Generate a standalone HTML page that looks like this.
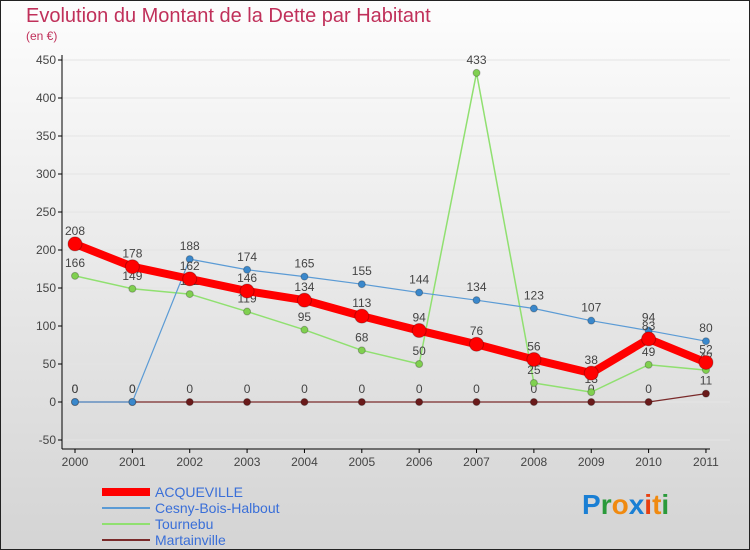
<!DOCTYPE html>
<html><head><meta charset="utf-8"><style>
body{margin:0;width:750px;height:550px;overflow:hidden;font-family:"Liberation Sans",sans-serif}
svg{display:block}
</style></head><body>
<svg id="c" width="750" height="550" xmlns="http://www.w3.org/2000/svg">
<defs><linearGradient id="bg" x1="0" y1="0" x2="0" y2="1"><stop offset="0" stop-color="#fdfdfd"/><stop offset="1" stop-color="#d4d4d4"/></linearGradient></defs>
<rect x="0.5" y="0.5" width="749" height="549" fill="url(#bg)" stroke="#222"/>
<text x="26" y="22" font-size="20" fill="#c0305a">Evolution du Montant de la Dette par Habitant</text>
<text x="26" y="40" font-size="12" fill="#c0305a">(en €)</text>
<g id="grid"></g><g id="axes"></g><g id="series"></g>
<g font-size="14">
<line x1="102" y1="492" x2="150" y2="492" stroke="#f00" stroke-width="8"/>
<text x="155" y="497" fill="#3a6fd8">ACQUEVILLE</text>
<line x1="102" y1="508" x2="150" y2="508" stroke="#5b9bd5" stroke-width="2"/>
<text x="155" y="513" fill="#3a6fd8">Cesny-Bois-Halbout</text>
<line x1="102" y1="524" x2="150" y2="524" stroke="#90e070" stroke-width="2"/>
<text x="155" y="529" fill="#3a6fd8">Tournebu</text>
<line x1="102" y1="540" x2="150" y2="540" stroke="#7a2a2a" stroke-width="2"/>
<text x="155" y="545" fill="#3a6fd8">Martainville</text>
</g>
<text x="582" y="514" font-size="28" font-weight="bold"><tspan fill="#1a7fd4">P</tspan><tspan fill="#2a9a3a">r</tspan><tspan fill="#f08a10">o</tspan><tspan fill="#1a7fd4">x</tspan><tspan fill="#e84010">i</tspan><tspan fill="#f08a10">t</tspan><tspan fill="#2a9a3a">i</tspan></text>
</svg>
<script>
const years=["2000","2001","2002","2003","2004","2005","2006","2007","2008","2009","2010","2011"];
const yTicks=[-50,0,50,100,150,200,250,300,350,400,450];
const acqueville=[208,178,162,146,134,113,94,76,56,38,83,52];
const cesny=[0,0,188,174,165,155,144,134,123,107,94,80];
const tournebu=[166,149,142,119,95,68,50,433,25,13,49,42];
const martainville=[0,0,0,0,0,0,0,0,0,0,0,11];
const NS="http://www.w3.org/2000/svg";
const xs=i=>75+i*57.36, ys=v=>402-v*0.76;
function mk(p,t,a){const e=document.createElementNS(NS,t);for(const k in a)e.setAttribute(k,a[k]);p.appendChild(e);return e;}
const grid=document.getElementById('grid'),axes=document.getElementById('axes'),ser=document.getElementById('series');
yTicks.forEach(v=>{
 const l=mk(grid,'line',{x1:62,x2:730,y1:ys(v),y2:ys(v),stroke:'#e4e4e4'});
 
 
 mk(axes,'line',{x1:58,x2:62,y1:ys(v),y2:ys(v),stroke:'#000'});
 const t=mk(axes,'text',{x:56,y:ys(v)+4,'text-anchor':'end','font-size':12,fill:'#444'});t.textContent=v;
 
 
});
mk(axes,'line',{x1:62,x2:62,y1:55,y2:449,stroke:'#000'});
mk(axes,'line',{x1:62,x2:710,y1:449,y2:449,stroke:'#000'});
years.forEach((y,i)=>{
 mk(axes,'line',{x1:xs(i),x2:xs(i),y1:449,y2:453,stroke:'#000'});
 const t=mk(axes,'text',{x:xs(i),y:466,'text-anchor':'middle','font-size':12,fill:'#444'});t.textContent=y;
 
 
});
function draw(d,name,color,w,r,dot){
 const g=mk(ser,'g',{});
 
 
 mk(g,'polyline',{points:d.map((v,i)=>xs(i)+','+ys(v)).join(' '),fill:'none',stroke:color,'stroke-width':w,'stroke-linejoin':'round'});
 d.forEach((v,i)=>{
  const c=mk(g,'circle',{cx:xs(i),cy:ys(v),r:r,fill:dot,stroke:'rgba(0,0,0,0.25)'});
  
  
  const t=mk(g,'text',{x:xs(i),y:ys(v)-9,'text-anchor':'middle','font-size':12,fill:'#444'});t.textContent=v;
 });
}
draw(martainville,'martainville','#7a2a2a',1.2,3.5,'#6a1a1a');
draw(tournebu,'tournebu','#90e070',1.5,3.5,'#80d050');
draw(cesny,'cesny','#5b9bd5',1.2,3.5,'#3a88cc');
draw(acqueville,'acqueville','#f00',8,7,'#f00');
</script>
</body></html>
